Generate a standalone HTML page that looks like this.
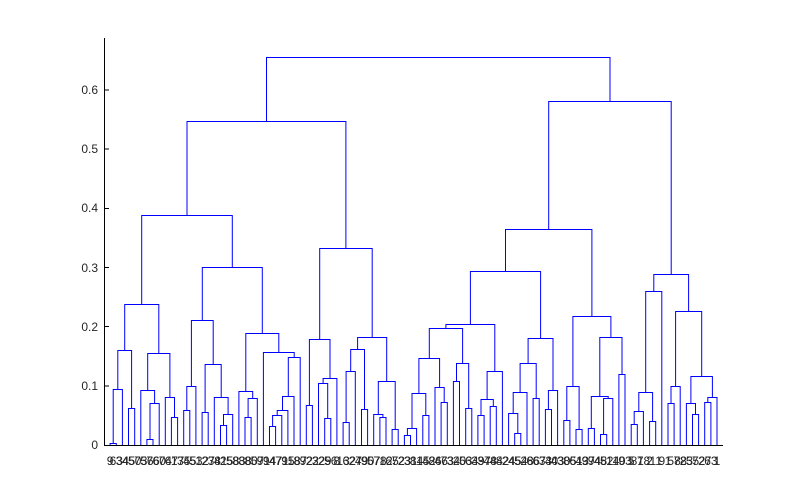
<!DOCTYPE html>
<html><head><meta charset="utf-8"><style>
html,body{margin:0;padding:0;background:#fff;}
svg{display:block;font-family:"Liberation Sans",Arial,sans-serif;}
</style></head><body>
<svg id="s" width="800" height="500" viewBox="0 0 800 500" xmlns="http://www.w3.org/2000/svg">
<rect width="800" height="500" fill="#fff"/>
<g id="tree" fill="none" stroke="#0000ff" stroke-width="1"></g>
<g stroke="#000" stroke-width="1" shape-rendering="crispEdges">
<line x1="104.5" y1="38" x2="104.5" y2="445.5"/>
<line x1="104" y1="445.5" x2="723" y2="445.5"/>
<line x1="104" y1="385.8" x2="109" y2="385.8"/>
<line x1="104" y1="326.7" x2="109" y2="326.7"/>
<line x1="104" y1="267.5" x2="109" y2="267.5"/>
<line x1="104" y1="208.3" x2="109" y2="208.3"/>
<line x1="104" y1="149.2" x2="109" y2="149.2"/>
<line x1="104" y1="90" x2="109" y2="90"/>
</g>
<g font-size="12" fill="#262626" text-anchor="end">
<text x="98" y="449">0</text>
<text x="98" y="390">0.1</text>
<text x="98" y="331">0.2</text>
<text x="98" y="272">0.3</text>
<text x="98" y="212">0.4</text>
<text x="98" y="153">0.5</text>
<text x="98" y="94">0.6</text>
</g>
<text font-size="12" fill="#262626" text-anchor="middle" y="465"><tspan x="110.1">9</tspan><tspan x="116.3">63</tspan><tspan x="122.4">34</tspan><tspan x="128.5">45</tspan><tspan x="134.7">50</tspan><tspan x="140.8">73</tspan><tspan x="146.9">56</tspan><tspan x="153.0">76</tspan><tspan x="159.2">60</tspan><tspan x="165.3">74</tspan><tspan x="171.4">67</tspan><tspan x="177.6">17</tspan><tspan x="183.7">35</tspan><tspan x="189.8">45</tspan><tspan x="195.9">53</tspan><tspan x="202.1">12</tspan><tspan x="208.2">27</tspan><tspan x="214.3">38</tspan><tspan x="220.5">41</tspan><tspan x="226.6">25</tspan><tspan x="232.7">58</tspan><tspan x="238.9">83</tspan><tspan x="245.0">88</tspan><tspan x="251.1">80</tspan><tspan x="257.2">57</tspan><tspan x="263.4">91</tspan><tspan x="269.5">94</tspan><tspan x="275.6">47</tspan><tspan x="281.8">71</tspan><tspan x="287.9">95</tspan><tspan x="294.0">18</tspan><tspan x="300.2">87</tspan><tspan x="306.3">92</tspan><tspan x="312.4">22</tspan><tspan x="318.5">32</tspan><tspan x="324.7">29</tspan><tspan x="330.8">56</tspan><tspan x="336.9">8</tspan><tspan x="343.1">13</tspan><tspan x="349.2">62</tspan><tspan x="355.3">27</tspan><tspan x="361.5">49</tspan><tspan x="367.6">90</tspan><tspan x="373.7">57</tspan><tspan x="379.9">78</tspan><tspan x="386.0">12</tspan><tspan x="392.1">65</tspan><tspan x="398.2">72</tspan><tspan x="404.4">23</tspan><tspan x="410.5">31</tspan><tspan x="416.6">84</tspan><tspan x="422.8">15</tspan><tspan x="428.9">42</tspan><tspan x="435.0">86</tspan><tspan x="441.2">46</tspan><tspan x="447.3">73</tspan><tspan x="453.4">34</tspan><tspan x="459.5">20</tspan><tspan x="465.7">53</tspan><tspan x="471.8">64</tspan><tspan x="477.9">39</tspan><tspan x="484.1">37</tspan><tspan x="490.2">48</tspan><tspan x="496.3">44</tspan><tspan x="502.5">82</tspan><tspan x="508.6">24</tspan><tspan x="514.7">45</tspan><tspan x="520.8">54</tspan><tspan x="527.0">28</tspan><tspan x="533.1">66</tspan><tspan x="539.2">67</tspan><tspan x="545.4">33</tspan><tspan x="551.5">40</tspan><tspan x="557.6">43</tspan><tspan x="563.8">30</tspan><tspan x="569.9">85</tspan><tspan x="576.0">61</tspan><tspan x="582.2">43</tspan><tspan x="588.3">97</tspan><tspan x="594.4">94</tspan><tspan x="600.5">48</tspan><tspan x="606.7">52</tspan><tspan x="612.8">14</tspan><tspan x="618.9">10</tspan><tspan x="625.1">93</tspan><tspan x="631.2">5</tspan><tspan x="637.3">81</tspan><tspan x="643.5">78</tspan><tspan x="649.6">2</tspan><tspan x="655.7">11</tspan><tspan x="661.9">9</tspan><tspan x="668.0">1</tspan><tspan x="674.1">58</tspan><tspan x="680.2">78</tspan><tspan x="686.4">23</tspan><tspan x="692.5">55</tspan><tspan x="698.6">72</tspan><tspan x="704.8">27</tspan><tspan x="710.9">63</tspan><tspan x="717.0">1</tspan></text>
</svg>
<script>
(function(){
var A=[304,[350,[389,[443,0,0],0],[408,0,0]],[353,[390,0,[403,[439,0,0],0]],[397,0,[417,0,0]]]];
var B=[320,[386,[410,0,0],0],[364,[412,0,0],[397,0,[414,[425,0,0],0]]]];
var C=[333,[391,0,[398,[417,0,0],0]],[352,0,[357,[396,[410,[415,[426,0,0],0],0],0],0]]];
var D=[339,[405,0,0],[378,[383,0,[418,0,0]],0]];
var E=[337,[349,[371,[422,0,0],0],[409,0,0]],[381,[414,0,[417,0,0]],[429,0,0]]];
var left=[121,[215,A,[267,B,C]],[248,D,E]];
var F=[324,[328,[358,[393,[428,[435,0,0],0],[415,0,0]],[387,0,[402,0,0]]],[363,[381,0,0],[408,0,0]]],[371,[399,[415,0,0],[406,0,0]],0]];
var F2=[338,[363,[392,[413,0,[433,0,0]],0],[398,0,0]],[390,[409,0,0],0]];
var G=[316,[386,[420,0,0],[429,0,0]],[337,[396,[428,0,0],[398,[434,0,0],0]],[374,0,0]]];
var H=[274,[291,[392,[411,[424,0,0],0],[421,0,0]],0],[311,[386,[403,0,0],0],[376,[403,0,[414,0,0]],[397,[402,0,0],0]]]];
var right=[101,[229,[271,F,F2],G],H];
var root=[57,left,right];
var i=0,d="";
function draw(n){
  if(n===0){i++;return {x:104+i*6.13,y:445};}
  var l=draw(n[1]),r=draw(n[2]);
  d+="M"+l.x.toFixed(1)+" "+l.y+"V"+(n[0]+0.5)+"H"+r.x.toFixed(1)+"V"+r.y+" ";
  return {x:(l.x+r.x)/2,y:n[0]+0.5};
}
draw(root);
var p=document.createElementNS("http://www.w3.org/2000/svg","path");
p.setAttribute("d",d);
document.getElementById("tree").appendChild(p);
})();
</script>
</body></html>
